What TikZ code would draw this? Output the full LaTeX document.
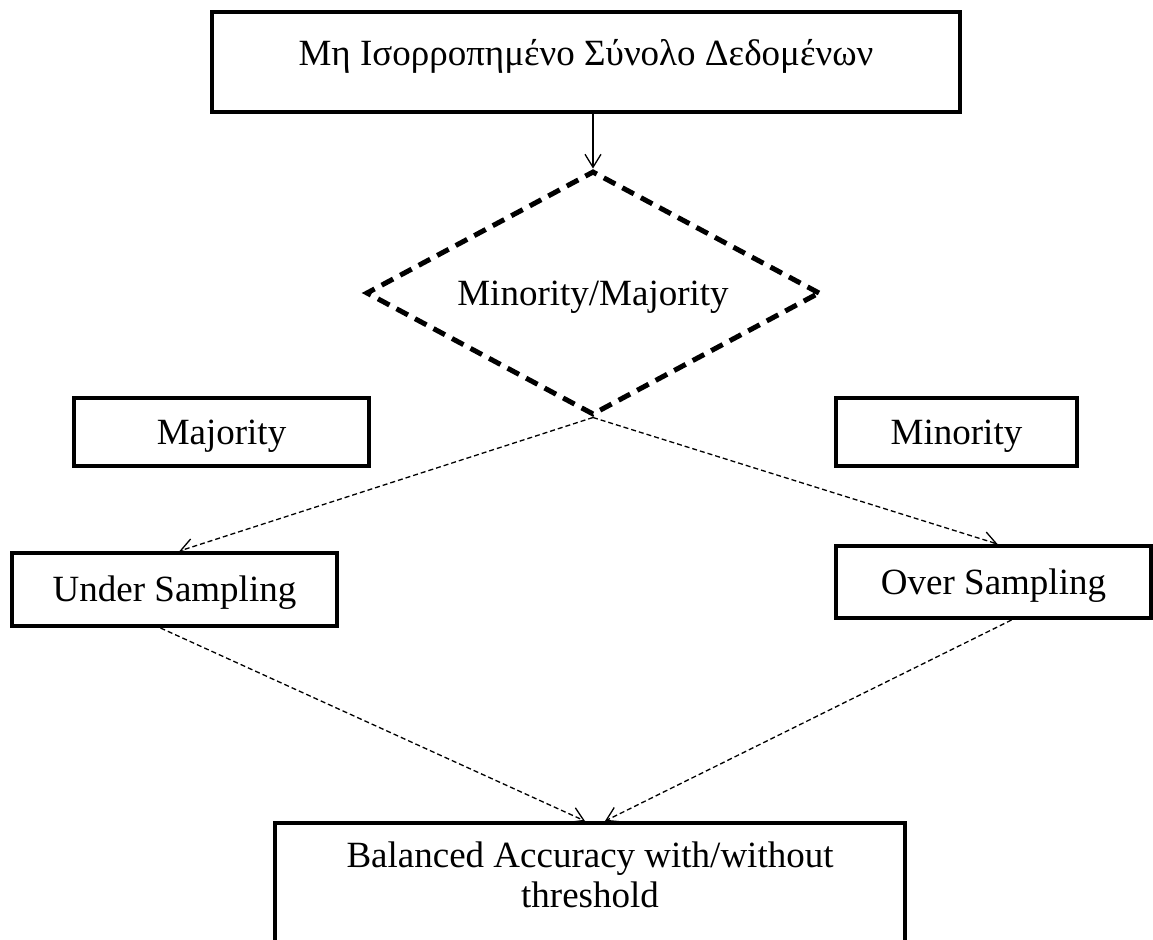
\documentclass[tikz,border=0pt]{standalone}
\usepackage{fontspec}
\setmainfont{Liberation Serif}
\usetikzlibrary{shapes.geometric,arrows.meta,calc}
\begin{document}
\begin{tikzpicture}[x=1pt,y=-1pt,
  >={Straight Barb[length=13pt,width=16pt]},
  txt/.style={font=\fontsize{37}{40}\selectfont, text height=24.5pt, text depth=0pt, inner sep=0pt},
  box/.style={txt, rectangle, draw, line width=4pt},
  decision/.style={txt, diamond, draw, line width=5pt, dash pattern=on 13pt off 8pt,
    aspect=1.86, minimum width=454pt, minimum height=244pt},
  solidarrow/.style={->, line width=1.3pt},
  dasharrow/.style={->, line width=1.3pt, dash pattern=on 5pt off 3pt}
]
\clip (0,0) rectangle (1153,939);

% source data set
\node[box, line width=4.6pt, minimum width=748pt, minimum height=100pt, text depth=18pt]
  (top) at (586,62) {Μη Ισορροπημένο Σύνολο Δεδομένων};

% class decision
\node[decision] (dia) at (593,293) {Minority/Majority};

% class labels
\node[box, minimum width=295pt, minimum height=68pt] (maj) at (221.5,432) {Majority};
\node[box, minimum width=241pt, minimum height=68pt] (min) at (956.5,432) {Minority};

% resampling steps
\node[box, minimum width=325pt, minimum height=73pt] (under) at (174.5,589.5) {Under Sampling};
\node[box, minimum width=315pt, minimum height=72pt] (over) at (993.5,582) {Over Sampling};

% evaluation
\node[box, minimum width=630pt, minimum height=200pt, anchor=north] (res) at (590,821) {};
\node[anchor=north, align=center, inner sep=0pt, font=\fontsize{37}{40}\selectfont]
  (restext) at ([yshift=-21pt]res.north) {Balanced Accuracy with/without\\threshold};

% connectors
\draw[solidarrow] (dia.north |- top.south) -- (dia.north);
\draw[dasharrow] (dia.south) -- ([xshift=5pt]under.north);
\draw[dasharrow] (dia.south) -- ([xshift=4pt]over.north);
\draw[dasharrow] ([xshift=-14pt]under.south) -- ([xshift=-5pt]res.north);
\draw[dasharrow] ([xshift=18pt]over.south) -- ([xshift=15pt]res.north);
\end{tikzpicture}
\end{document}
